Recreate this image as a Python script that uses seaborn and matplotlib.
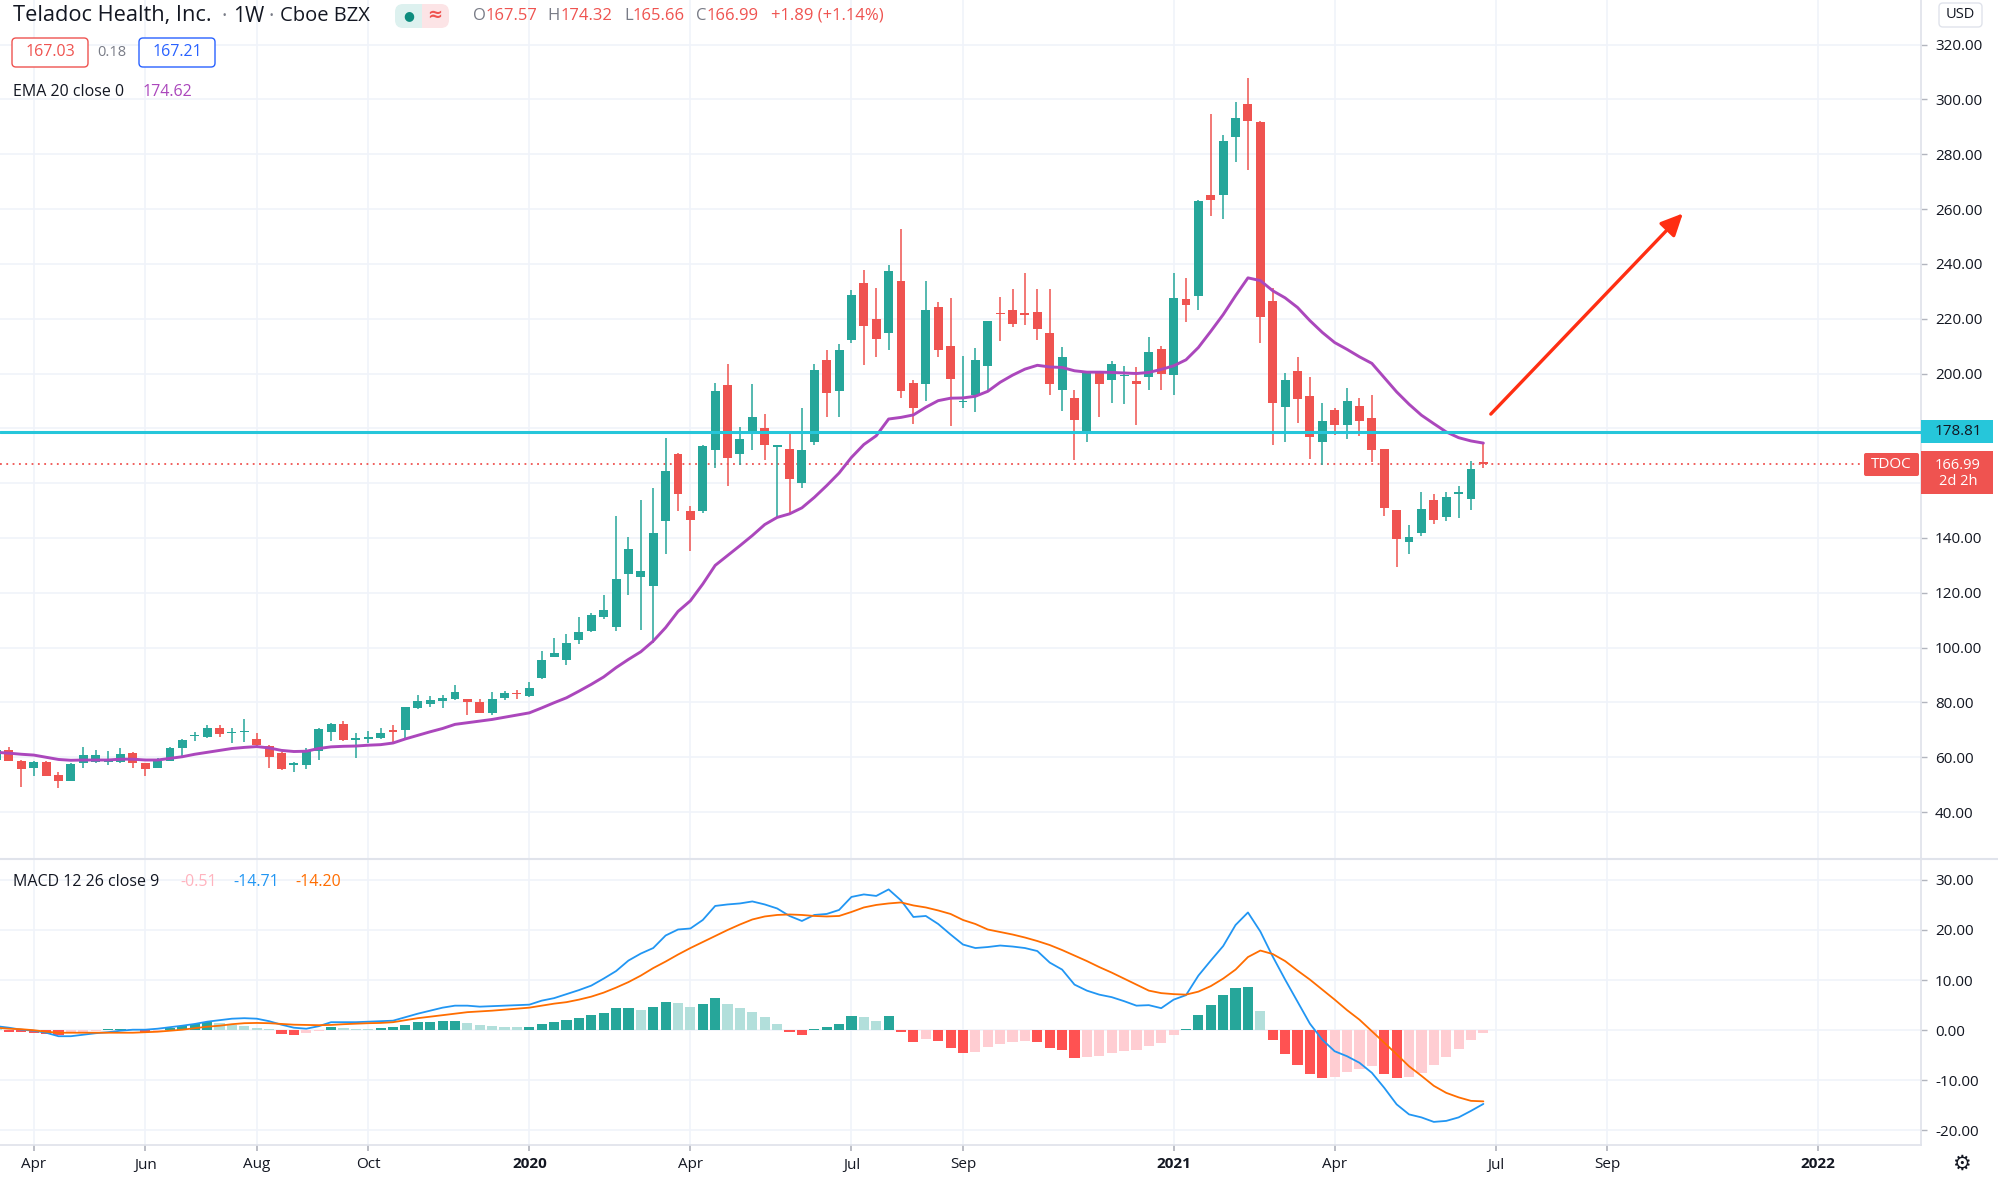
import matplotlib
matplotlib.use("Agg")
import numpy as np
import matplotlib.pyplot as plt
import seaborn as sns
from matplotlib.patches import FancyBboxPatch, Rectangle
from matplotlib.lines import Line2D
from matplotlib.transforms import IdentityTransform

# weekly bars, index 0 = week of 2019-03-11, index 120 = week of 2021-06-28
opens = [59.0, 62.7, 58.7, 56.2, 58.4, 53.6, 51.5, 57.8, 58.4, 58.4,
         58.4, 61.5, 57.8, 56.2, 58.7, 63.5, 67.8, 67.5, 70.5, 68.7,
         69.1, 66.7, 64.2, 61.5, 57.2, 57.2, 62.3, 69.3, 72.0, 66.2,
         66.7, 67.2, 69.9, 69.9, 78.0, 79.5, 80.5, 81.1, 81.1, 80.1,
         76.2, 81.5, 83.5, 82.3, 88.8, 96.7, 95.4, 102.7, 105.9, 111.0,
         107.6, 126.8, 125.6, 122.6, 146.3, 170.7, 150.0, 149.8, 172.0, 195.8,
         170.7, 178.6, 180.1, 173.1, 172.5, 160.0, 174.9, 205.0, 193.8, 212.3,
         232.9, 220.0, 214.7, 233.7, 196.6, 196.2, 224.4, 210.2, 189.5, 192.3,
         202.7, 222.2, 223.2, 222.0, 222.6, 214.9, 193.9, 191.2, 178.3, 200.2,
         197.8, 199.0, 197.2, 198.8, 209.1, 199.6, 227.3, 228.4, 265.2, 265.0,
         286.3, 298.2, 291.8, 226.6, 187.8, 200.8, 191.9, 175.0, 186.8, 181.3,
         188.0, 183.9, 172.3, 150.2, 138.4, 141.8, 153.7, 147.6, 156.1, 154.3,
         167.57]
highs = [63.5, 63.6, 59.0, 58.8, 58.6, 54.8, 57.8, 63.9, 62.7, 62.3,
         63.5, 61.8, 58.0, 59.9, 63.8, 66.5, 69.3, 71.8, 71.8, 70.5,
         73.9, 69.0, 64.5, 61.8, 58.4, 63.3, 70.5, 72.4, 73.2, 69.0,
         69.6, 70.5, 71.8, 78.5, 82.7, 82.3, 82.7, 86.3, 81.2, 81.1,
         83.8, 84.2, 84.7, 87.6, 98.8, 103.4, 105.1, 111.0, 112.8, 119.1,
         147.9, 140.5, 153.7, 158.2, 176.5, 170.9, 151.8, 174.1, 196.4, 203.5,
         180.4, 196.0, 185.3, 174.0, 178.0, 187.4, 203.3, 208.6, 210.8, 230.3,
         237.6, 231.2, 239.6, 252.8, 197.7, 233.6, 226.0, 227.6, 206.5, 209.3,
         219.3, 228.0, 230.9, 236.8, 230.7, 230.9, 209.5, 193.9, 200.2, 201.0,
         204.6, 202.7, 202.2, 213.2, 210.0, 236.5, 235.0, 263.2, 294.6, 287.0,
         299.1, 307.7, 292.0, 231.1, 200.1, 206.0, 198.9, 189.3, 187.6, 194.9,
         190.9, 192.1, 172.5, 150.3, 144.9, 156.7, 156.1, 156.7, 159.1, 168.0,
         174.32]
lows = [58.5, 58.5, 49.2, 53.2, 53.0, 48.7, 51.3, 56.2, 58.0, 57.2,
        57.8, 56.0, 53.2, 56.0, 58.5, 59.9, 66.0, 67.2, 67.5, 65.1,
        65.7, 64.2, 56.0, 55.4, 54.5, 55.8, 59.0, 66.0, 65.8, 59.9,
        65.1, 66.8, 65.7, 66.9, 77.6, 78.4, 77.9, 80.8, 75.4, 76.0,
        75.4, 81.0, 81.1, 82.0, 88.5, 96.5, 93.7, 101.5, 105.7, 110.4,
        105.9, 119.3, 106.3, 101.8, 134.1, 149.8, 135.1, 149.1, 165.6, 159.0,
        166.8, 172.1, 168.5, 147.5, 148.8, 158.2, 174.1, 184.0, 184.0, 211.0,
        203.1, 205.9, 208.4, 191.1, 181.6, 190.1, 205.9, 180.8, 187.4, 185.9,
        193.5, 211.9, 216.8, 217.7, 212.2, 192.1, 186.3, 168.5, 175.0, 184.1,
        189.3, 188.8, 181.1, 193.9, 194.1, 192.0, 218.8, 223.2, 257.3, 256.5,
        277.2, 274.1, 211.0, 173.8, 175.0, 182.0, 168.8, 166.8, 177.4, 176.2,
        177.1, 167.7, 148.2, 129.5, 134.1, 140.9, 145.1, 146.3, 147.2, 150.2,
        165.66]
closes = [62.7, 58.7, 55.6, 58.4, 53.2, 51.5, 57.5, 60.8, 60.8, 59.4,
          61.1, 57.8, 55.6, 58.7, 63.5, 66.3, 68.1, 70.5, 68.4, 69.3,
          69.6, 64.5, 60.2, 55.6, 57.8, 62.3, 70.3, 72.1, 66.3, 66.9,
          67.5, 69.0, 69.3, 78.2, 80.4, 80.8, 81.5, 83.8, 80.1, 76.2,
          81.3, 83.3, 82.9, 85.1, 95.4, 98.0, 101.6, 105.7, 111.8, 113.7,
          125.0, 136.0, 128.0, 141.8, 164.3, 156.1, 146.6, 173.4, 193.6, 169.2,
          176.2, 184.1, 173.9, 173.9, 161.5, 172.1, 201.3, 192.8, 208.6, 228.8,
          217.5, 212.6, 237.3, 193.5, 187.4, 223.2, 208.4, 198.0, 189.9, 205.0,
          219.0, 221.7, 218.0, 221.3, 216.1, 196.3, 206.1, 182.9, 200.2, 196.3,
          203.4, 199.5, 196.3, 207.9, 199.8, 227.7, 224.9, 262.8, 263.4, 284.9,
          293.4, 292.2, 220.7, 189.4, 197.6, 190.6, 176.7, 182.7, 181.1, 190.0,
          182.6, 172.2, 151.0, 139.6, 140.5, 150.4, 146.6, 154.9, 156.6, 165.2,
          166.99]
ema20 = [61.8, 61.5, 61.1, 60.8, 60.0, 59.2, 58.9, 59.0, 59.0, 59.0,
         59.3, 59.3, 59.0, 59.0, 59.6, 60.2, 61.1, 61.8, 62.5, 63.2,
         63.6, 63.9, 63.4, 62.5, 62.1, 62.2, 63.2, 63.8, 64.0, 64.1,
         64.4, 64.6, 65.2, 66.7, 68.0, 69.3, 70.5, 72.0, 72.6, 73.2,
         73.8, 74.6, 75.4, 76.2, 78.0, 79.9, 81.7, 84.1, 86.6, 89.3,
         92.7, 95.7, 98.5, 102.4, 107.3, 113.2, 117.1, 123.2, 130.0, 133.6,
         137.2, 140.9, 144.9, 147.5, 148.8, 151.0, 154.8, 159.1, 163.7, 169.4,
         174.1, 177.3, 183.4, 184.0, 184.9, 187.7, 190.1, 191.0, 191.1, 191.7,
         193.5, 196.8, 199.4, 201.6, 203.0, 202.4, 202.2, 201.0, 200.5, 200.5,
         200.4, 200.2, 200.0, 200.4, 201.5, 202.8, 205.0, 209.5, 215.4, 221.5,
         228.4, 234.9, 233.9, 230.2, 227.6, 224.1, 219.3, 215.0, 211.3, 208.8,
         206.1, 203.7, 198.5, 193.3, 188.8, 184.8, 181.7, 178.7, 176.6, 175.4,
         174.62]
macd_line = [0.8, 0.5, 0.1, -0.1, -0.5, -1.2, -1.2, -0.9, -0.6, -0.4,
             -0.1, 0.1, 0.1, 0.3, 0.6, 0.9, 1.25, 1.7, 2.0, 2.3,
             2.4, 2.3, 1.8, 1.1, 0.5, 0.3, 0.8, 1.6, 1.6, 1.6,
             1.7, 1.8, 1.9, 2.6, 3.3, 3.9, 4.5, 4.9, 4.9, 4.7,
             4.8, 4.9, 5.0, 5.1, 5.9, 6.4, 7.2, 8.0, 8.9, 10.3,
             11.8, 13.9, 15.3, 16.4, 18.9, 20.1, 20.3, 22.0, 24.8, 25.1,
             25.3, 25.7, 25.1, 24.3, 22.8, 21.8, 23.0, 23.2, 24.0, 26.6,
             27.1, 26.8, 28.1, 25.9, 22.6, 22.8, 21.2, 19.1, 17.1, 16.4,
             16.6, 16.9, 16.7, 16.4, 15.8, 13.5, 12.1, 9.1, 7.9, 7.1,
             6.6, 5.8, 4.9, 5.0, 4.4, 6.1, 7.0, 10.9, 13.9, 16.8,
             21.0, 23.5, 19.7, 14.7, 10.1, 5.7, 1.3, -1.9, -4.2, -5.2,
             -6.5, -8.5, -11.5, -14.8, -16.8, -17.4, -18.3, -18.1, -17.4, -16.1,
             -14.71]
signal_line = [0.5, 0.3, 0.2, 0.0, -0.3, -0.5, -0.5, -0.5, -0.5, -0.5,
               -0.5, -0.5, -0.4, -0.3, -0.1, 0.1, 0.4, 0.7, 0.9, 1.2,
               1.4, 1.45, 1.4, 1.25, 1.1, 1.05, 1.0, 1.05, 1.2, 1.3,
               1.4, 1.45, 1.6, 2.0, 2.4, 2.7, 3.0, 3.3, 3.6, 3.75,
               3.9, 4.1, 4.3, 4.5, 4.9, 5.3, 5.6, 6.1, 6.7, 7.5,
               8.5, 9.6, 10.9, 12.4, 13.7, 15.1, 16.4, 17.6, 18.8, 20.0,
               21.1, 22.1, 22.7, 23.0, 23.1, 23.0, 22.8, 22.7, 22.8, 23.6,
               24.5, 25.0, 25.3, 25.5, 24.9, 24.5, 23.9, 23.2, 22.0, 21.2,
               20.1, 19.6, 19.1, 18.5, 17.8, 17.0, 16.0, 14.9, 13.8, 12.6,
               11.5, 10.3, 9.1, 7.9, 7.4, 7.2, 7.1, 7.7, 8.8, 10.3,
               12.1, 14.6, 15.9, 15.2, 13.8, 11.9, 10.1, 8.1, 6.1, 4.0,
               2.1, -0.2, -2.5, -4.8, -7.2, -9.1, -11.1, -12.5, -13.4, -14.1,
               -14.2]
macd_hist = [0.2, -0.3, -0.4, -0.5, -0.8, -1.0, -0.6, -0.4, -0.2, 0.2,
             0.3, 0.2, -0.3, -0.1, 0.4, 0.9, 1.3, 1.6, 1.4, 1.1,
             0.8, 0.5, 0.2, -0.7, -0.9, -0.5, -0.2, 0.6, 0.4, 0.3,
             0.25, 0.4, 0.6, 1.1, 1.6, 1.7, 1.75, 1.8, 1.45, 1.0,
             0.8, 0.7, 0.6, 0.7, 1.3, 1.7, 2.0, 2.4, 3.0, 3.5,
             4.4, 4.5, 4.1, 4.7, 5.7, 5.5, 4.7, 5.3, 6.5, 5.3,
             4.5, 3.6, 2.6, 1.3, -0.4, -1.0, 0.3, 0.6, 1.3, 2.8,
             2.6, 1.8, 2.8, -0.3, -2.3, -1.7, -2.2, -3.5, -4.6, -4.3,
             -3.4, -2.7, -2.4, -2.2, -2.4, -3.6, -3.9, -5.5, -5.3, -5.1,
             -4.5, -4.2, -3.9, -3.1, -2.6, -0.9, 0.3, 3.1, 5.0, 7.0,
             8.4, 8.7, 3.8, -1.9, -4.8, -7.0, -8.8, -9.5, -9.4, -8.3,
             -7.8, -7.2, -8.7, -9.5, -9.3, -8.6, -7.0, -5.4, -3.7, -2.0,
             -0.51]

month_ticks = [3, 12, 21, 30, 43, 56, 69, 78, 95, 108, 121, 130, 147]
month_labels = ["Apr", "Jun", "Aug", "Oct", "2020", "Apr", "Jul", "Sep",
                "2021", "Apr", "Jul", "Sep", "2022"]
price_ticks = [40, 60, 80, 100, 120, 140, 160, 180, 200, 220, 240, 260, 280, 300, 320]
macd_ticks = [-20, -10, 0, 10, 20, 30]
resistance = 178.81
last_price = 166.99
arrow_start = (120.6, 185.2)
arrow_end = (136.1, 258.4)

GREEN = "#26A69A"
RED = "#EF5350"
TXT = "#131722"
GRAY = "#787B86"
GRID = "#F0F3FA"
BORDER = "#E0E3EB"

sns.set_theme(style="white")
plt.rcParams["font.family"] = ["Open Sans", "DejaVu Sans"]

W, H = 1999, 1182
fig = plt.figure(figsize=(W / 100, H / 100), dpi=100)
fig.patch.set_facecolor("white")

PANE_R = 1921
PRICE_BOT = 858
MACD_TOP, MACD_BOT = 860, 1145
P_TOP, P_BOT = 336.27, 23.25
M_TOP, M_BOT = 33.97, -22.91
X_LO, X_HI = 0.28, 155.32

ax = fig.add_axes([0, 1 - PRICE_BOT / H, PANE_R / W, PRICE_BOT / H])
ax2 = fig.add_axes([0, 1 - MACD_BOT / H, PANE_R / W, (MACD_BOT - MACD_TOP) / H], sharex=ax)

weeks = np.arange(len(closes))
o = np.array(opens)
c = np.array(closes)
candle_colors = [GREEN if cc >= oo else RED for oo, cc in zip(o, c)]
body_bottom = np.minimum(o, c)
body_height = np.maximum(np.abs(c - o), 0.5)

# price pane
ax.axhline(last_price, color=RED, lw=1.3, ls=(0, (1, 2.5)), zorder=1)
ax.vlines(weeks, lows, highs, colors=candle_colors, lw=1.1, zorder=2)
ax.bar(weeks, body_height, bottom=body_bottom, width=0.72, color=candle_colors,
       linewidth=0, zorder=2.5)
sns.lineplot(x=weeks, y=ema20, ax=ax, color="#AB47BC", linewidth=2.1, zorder=3)
ax.axhline(resistance, color="#26C6DA", lw=2.2, zorder=4)
ax.annotate("", xy=arrow_end, xytext=arrow_start,
            arrowprops=dict(arrowstyle="-|>,head_length=0.95,head_width=0.45",
                            color="#FF2E12", lw=2.4, mutation_scale=14,
                            shrinkA=0, shrinkB=0), zorder=5)

ax.set_xlim(X_LO, X_HI)
ax.set_ylim(P_BOT, P_TOP)
ax.set_yticks(price_ticks)
# 160 and 180 labels sit under the price-line boxes, as in the original
ax.set_yticklabels(["" if v in (160, 180) else f"{v:.2f}" for v in price_ticks])
ax.set_xticks(month_ticks)
ax.yaxis.tick_right()
ax.grid(True, color=GRID, lw=1.2)
ax.tick_params(axis="x", bottom=False, labelbottom=False)
ax.tick_params(axis="y", right=True, length=4, width=1, color="#B2B5BE",
               pad=6, labelsize=11, labelcolor=TXT)
for s in ["top", "left", "bottom"]:
    ax.spines[s].set_visible(False)
ax.spines["right"].set_color(BORDER)
ax.set_ylabel("")

# MACD pane
hist_colors = []
prev = macd_hist[0]
for v in macd_hist:
    if v >= 0:
        hist_colors.append(GREEN if v > prev else "#B2DFDB")
    else:
        hist_colors.append("#FF5252" if v < prev else "#FFCDD2")
    prev = v
ax2.bar(weeks, macd_hist, width=0.82, color=hist_colors, linewidth=0, zorder=1)
sns.lineplot(x=weeks, y=macd_line, ax=ax2, color="#2196F3", linewidth=1.3, zorder=2)
sns.lineplot(x=weeks, y=signal_line, ax=ax2, color="#FF6D00", linewidth=1.3, zorder=2.2)
ax2.set_ylim(M_BOT, M_TOP)
ax2.set_yticks(macd_ticks)
ax2.set_yticklabels([f"{v:.2f}" for v in macd_ticks])
ax2.yaxis.tick_right()
ax2.set_xticks(month_ticks)
ax2.set_xticklabels(month_labels)
for lbl in ax2.get_xticklabels():
    if lbl.get_text().isdigit():
        lbl.set_fontweight("bold")
ax2.grid(True, color=GRID, lw=1.2)
ax2.tick_params(axis="y", right=True, length=4, width=1, color="#B2B5BE",
                pad=6, labelsize=11, labelcolor=TXT)
ax2.tick_params(axis="x", bottom=True, length=4, color="#B2B5BE", pad=5,
                labelsize=11, labelcolor=TXT)
for s in ["top", "left"]:
    ax2.spines[s].set_visible(False)
ax2.spines["right"].set_color(BORDER)
ax2.spines["bottom"].set_color(BORDER)
ax2.set_ylabel("")

# pane separator
fig.add_artist(Line2D([0, 1], [1 - 859 / H, 1 - 859 / H], color=BORDER, lw=1.5,
                      transform=fig.transFigure))


def pbox(x0, y0, x1, y1, ec, fc, r=3, lw=1.0):
    fig.add_artist(FancyBboxPatch((x0, H - y1), x1 - x0, y1 - y0,
                                  boxstyle=f"round,pad=0,rounding_size={r}",
                                  transform=IdentityTransform(), ec=ec, fc=fc, lw=lw))


def ptext(x, y, s, **kw):
    kw.setdefault("va", "center")
    kw.setdefault("ha", "left")
    fig.text(x / W, 1 - y / H, s, **kw)


def price_y(p):
    return (P_TOP - p) / (P_TOP - P_BOT) * PRICE_BOT


# header
ptext(13, 16, "Teladoc Health, Inc.", fontsize=15.7, color=TXT)
ptext(222, 16, "·", fontsize=15, color=GRAY)
ptext(233, 16, "1W", fontsize=15, color=TXT)
ptext(268, 16, "·", fontsize=15, color=GRAY)
ptext(280, 16, "Cboe BZX", fontsize=14.5, color=TXT)
pbox(395, 4, 422, 28, ec="none", fc="#DDF1EF", r=8)
pbox(420, 4, 449, 28, ec="none", fc="#FCE4E6", r=8)
fig.add_artist(Rectangle((414, H - 28), 8, 24, transform=IdentityTransform(),
                         fc="#DDF1EF", ec="none"))
fig.add_artist(Rectangle((422, H - 28), 8, 24, transform=IdentityTransform(),
                         fc="#FCE4E6", ec="none"))
ptext(409, 16, "●", fontsize=9, color="#0E8C7E", ha="center", family="DejaVu Sans")
ptext(435, 15, "≈", fontsize=13, color="#EF5350", ha="center", family="DejaVu Sans",
      fontweight="bold")
ohlc = [(473, "O", GRAY), (486, "167.57", RED), (547, "H", GRAY), (561, "174.32", RED),
        (624, "L", GRAY), (633, "165.66", RED), (696, "C", GRAY), (707, "166.99", RED),
        (771, "+1.89 (+1.14%)", RED)]
for x, s, col in ohlc:
    ptext(x, 16, s, fontsize=12, color=col)

pbox(12, 38, 88, 67, ec=RED, fc="white", r=4)
ptext(50, 52.5, "167.03", fontsize=11.5, color=RED, ha="center")
ptext(112, 52.5, "0.18", fontsize=10.5, color=GRAY, ha="center")
pbox(139, 38, 215, 67, ec="#2962FF", fc="white", r=4)
ptext(177, 52.5, "167.21", fontsize=11.5, color="#2962FF", ha="center")

ptext(13, 92, "EMA 20 close 0", fontsize=11.5, color=TXT)
ptext(143, 92, "174.62", fontsize=11.5, color="#AB47BC")

ptext(13, 882, "MACD 12 26 close 9", fontsize=11.5, color=TXT)
ptext(180, 882, "-0.51", fontsize=11.5, color="#FFB3BE")
ptext(233, 882, "-14.71", fontsize=11.5, color="#2196F3")
ptext(295, 882, "-14.20", fontsize=11.5, color="#FF6D00")

# right scale extras
pbox(1939, 3, 1982, 27, ec=BORDER, fc="white", r=4)
ptext(1960.5, 15, "USD", fontsize=10.5, color=TXT, ha="center")

ry = price_y(resistance)
fig.add_artist(Rectangle((PANE_R, H - (ry + 11.5)), 72, 23, transform=IdentityTransform(),
                         fc="#26C6DA", ec="none"))
ptext(1958, ry, f"{resistance:.2f}", fontsize=11, color=TXT, ha="center")

ly = price_y(last_price)
fig.add_artist(Rectangle((PANE_R, H - (ly + 30)), 72, 43, transform=IdentityTransform(),
                         fc=RED, ec="none"))
ptext(1958, ly + 9.5, f"{last_price:.2f}\n2d 2h", fontsize=10.5, color="white",
      ha="center", linespacing=1.15, multialignment="center")
pbox(1864, ly - 11, 1919, ly + 12, ec="none", fc=RED, r=2)
ptext(1891.5, ly, "TDOC", fontsize=11, color="white", ha="center")

ptext(1961, 1164, "⚙", fontsize=15, color=TXT, ha="center", family="DejaVu Sans")

fig.savefig("out.png", dpi=100)
